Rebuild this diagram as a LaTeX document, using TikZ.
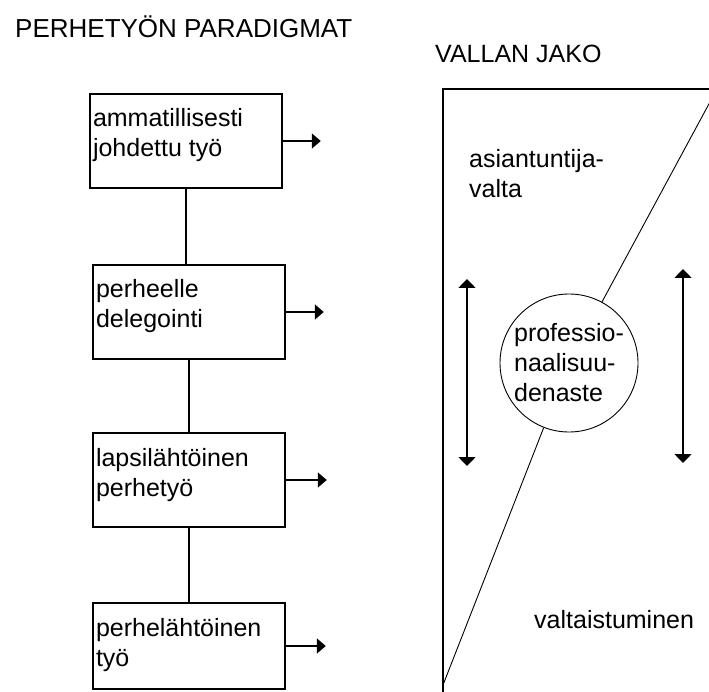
\documentclass[tikz,border=0pt]{standalone}
\usepackage{fontspec}
\setmainfont{Liberation Sans}
\usepackage{tikz}
\usetikzlibrary{arrows.meta, positioning}
\newcommand{\tekstifont}{\fontsize{25}{30}\selectfont}
\newcommand{\otsikkofont}{\fontsize{26}{30}\selectfont}

\begin{document}
\begin{tikzpicture}[x=1pt, y=-1pt,
  paradigma/.style={shape=rectangle, draw=black, line width=1.6pt, inner sep=0pt, minimum width=192pt, text height=33pt, text depth=61pt, font=\tekstifont},
  yhteys/.style={line width=1.6pt},
  nuoli/.style={line width=1.6pt, -{Triangle[length=9pt, width=15pt]}},
  kaksinuoli/.style={line width=1.6pt, {Triangle[length=9pt, width=17pt]}-{Triangle[length=9pt, width=17pt]}},
  ohut/.style={line width=0.9pt},
  teksti/.style={inner sep=0pt, font=\tekstifont}]
\useasboundingbox (0,0) rectangle (709,692);
%otsikot
\node[teksti, anchor=base west, font=\otsikkofont] (otsikko1) at (15,38) {PERHETYÖN PARADIGMAT};
\node[teksti, anchor=base west] (otsikko2) at (435,63) {VALLAN JAKO};
%paradigmat
\node[paradigma] (amm) at (186,141) {\parbox[t]{186pt}{ammatillisesti\\johdettu työ}};
\node[paradigma] (del) at (189,312) {\parbox[t]{186pt}{perheelle\\delegointi}};
\node[paradigma] (lap) at (189,480) {\parbox[t]{186pt}{lapsilähtöinen\\perhetyö}};
\node[paradigma, text depth=53pt] (per) at (189,646) {\parbox[t]{186pt}{perhelähtöinen\\työ}};
\draw[yhteys] (amm.south) -- (amm.south |- del.north);
\draw[yhteys] (del.south) -- (del.south |- lap.north);
\draw[yhteys] (lap.south) -- (lap.south |- per.north);
\coordinate[right=38pt of amm.east] (o1);
\coordinate[right=38pt of del.east] (o2);
\coordinate[right=41pt of lap.east] (o3);
\coordinate[right=40pt of per.east] (o4);
\draw[nuoli] (amm.east) -- (o1); \draw[nuoli] (del.east) -- (o2);
\draw[nuoli] (lap.east) -- (o3); \draw[nuoli] (per.east) -- (o4);
%vallan jako
\draw[yhteys] (443,700) -- (443,89) -- (720,89);
\node[circle, draw=black, ohut, minimum size=138pt, inner sep=0pt, align=left, font=\tekstifont] (aste) at (569,363) {professio-\\naalisuu-\\denaste};
\coordinate (yla) at (717,89); \coordinate (ala) at (443,685);
\draw[ohut] (aste) -- (yla); \draw[ohut] (aste) -- (ala);
\node[teksti, anchor=north west, align=left] (asian) at (469,149) {asiantuntija-\\valta};
\node[teksti, anchor=base west] (valt) at (534,628) {valtaistuminen};
\coordinate (v1) at (467,279); \coordinate (v2) at (467,466);
\coordinate (o5) at (683,269); \coordinate (o6) at (683,463);
\draw[kaksinuoli] (v1) -- (v2);
\draw[kaksinuoli] (o5) -- (o6);
\end{tikzpicture}
\end{document}
